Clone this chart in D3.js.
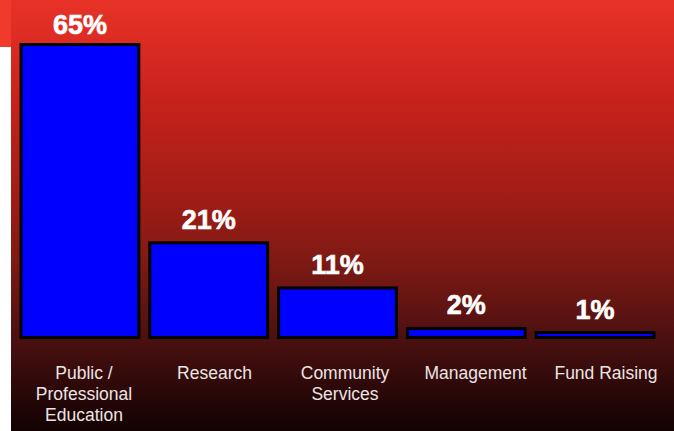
<!DOCTYPE html>
<html>
<head>
  <meta charset="utf-8">
  <script src="https://d3js.org/d3.v7.min.js"></script>
  <style>
    body { margin: 0; background: #fff; }
    svg { display: block; }
  </style>
</head>
<body>
  <svg id="chart"></svg>
  <script>
    // data
    var categories = [["Public /", "Professional", "Education"], ["Research"], ["Community", "Services"], ["Management"], ["Fund Raising"]];
    var values = [65, 21, 11, 2, 1];
    var valueLabels = ["65%", "21%", "11%", "2%", "1%"];

    var W = 674, H = 431;
    var svg = d3.select("#chart").attr("width", W).attr("height", H);

    // background gradient
    var defs = svg.append("defs");
    var grad = defs.append("linearGradient").attr("id", "bg")
      .attr("x1", 0).attr("y1", 0).attr("x2", 0).attr("y2", 1);
    [[0, "#e83228"], [0.23, "#c8221c"], [0.46, "#a01c16"], [0.6, "#801a14"], [0.79, "#4a1010"], [0.97, "#1a0404"], [1, "#140202"]]
      .forEach(function (s) { grad.append("stop").attr("offset", s[0]).attr("stop-color", s[1]); });

    svg.append("rect").attr("x", 0).attr("y", 0).attr("width", W).attr("height", H).attr("fill", "#fff");
    svg.append("rect").attr("x", 0).attr("y", 0).attr("width", 12).attr("height", 47).attr("fill", "#f03a2c");
    svg.append("rect").attr("x", 11).attr("y", 0).attr("width", W - 11).attr("height", H).attr("fill", "url(#bg)");

    var baseY = 337.5;
    var x = d3.scaleBand()
      .domain(d3.range(values.length))
      .range([21, 654])
      .paddingInner(0.085);

    var y = d3.scaleLinear()
      .domain([0, 65])
      .range([baseY, 44.5]);

    // category labels sit on a slightly wider spacing than the bars
    var xl = d3.scalePoint()
      .domain(d3.range(values.length))
      .range([84, 606]);

    var g = svg.append("g");

    g.selectAll(".bar")
      .data(values)
      .enter()
      .append("rect")
      .attr("class", "bar")
      .attr("x", function (d, i) { return x(i); })
      .attr("width", x.bandwidth())
      .attr("y", function (d) { return Math.min(y(d), baseY - 5); })
      .attr("height", function (d) { return Math.max(baseY - y(d), 5); })
      .attr("fill", "#0000ff")
      .attr("stroke", "#000")
      .attr("stroke-width", 3);

    g.selectAll(".val")
      .data(values)
      .enter()
      .append("text")
      .attr("class", "val")
      .attr("x", function (d, i) { return x(i) + x.bandwidth() / 2; })
      .attr("y", function (d) { return Math.max(y(d) - 14, 34); })
      .attr("text-anchor", "middle")
      .attr("font-family", "Liberation Sans, Arial, sans-serif")
      .attr("font-weight", "bold")
      .attr("font-size", 27)
      .attr("fill", "#fff")
      .attr("stroke", "#fff")
      .attr("stroke-width", 0.6)
      .text(function (d, i) { return valueLabels[i]; });

    var cat = g.selectAll(".cat")
      .data(categories)
      .enter()
      .append("text")
      .attr("class", "cat")
      .attr("x", function (d, i) { return xl(i); })
      .attr("y", 379)
      .attr("text-anchor", "middle")
      .attr("font-family", "Liberation Sans, Arial, sans-serif")
      .attr("font-size", 17.5)
      .attr("fill", "#ece4e4");

    cat.each(function (d, i) {
      var t = d3.select(this);
      d.forEach(function (line, j) {
        t.append("tspan")
          .attr("x", xl(i))
          .attr("dy", j === 0 ? 0 : 21)
          .text(line);
      });
    });
  </script>
</body>
</html>
